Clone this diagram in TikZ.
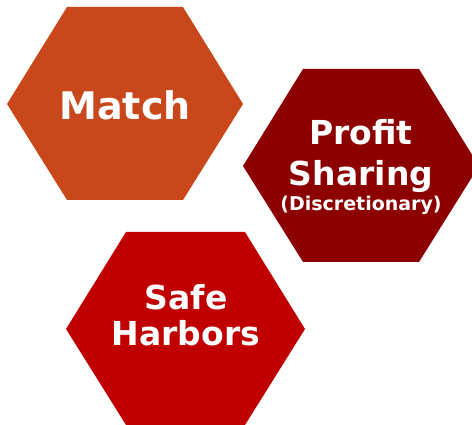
\documentclass[tikz,border=0pt]{standalone}
\usepackage{fontspec}
\setmainfont{DejaVu Sans}
\definecolor{matchorange}{RGB}{201,72,27}
\definecolor{profitred}{RGB}{140,0,0}
\definecolor{safered}{RGB}{192,0,0}
\begin{document}
\begin{tikzpicture}[x=1pt,y=-1pt,
  hexlabel/.style={text=white,font=\bfseries,inner sep=0pt,anchor=base},
  big/.style={hexlabel,font=\fontsize{38}{40}\selectfont\bfseries},
  mid/.style={hexlabel,font=\fontsize{33}{36}\selectfont\bfseries},
  small/.style={hexlabel,font=\fontsize{19}{22}\selectfont\bfseries}]
  \useasboundingbox (0,0) rectangle (472,425);
  \clip (0,0) rectangle (472,425);
  % Match hexagon
  \fill[matchorange] (7,104) -- (67,7) -- (183,7) -- (243,104) -- (183,200) -- (67,200) -- cycle;
  \node[big] (match) at (125,120) {Match};
  % Profit sharing hexagon
  \fill[profitred] (243,166) -- (303,69) -- (419,69) -- (479,166) -- (419,262) -- (303,262) -- cycle;
  \node[mid] (profit) at (361,145) {Profit};
  \node[mid] (sharing) at (361,186) {Sharing};
  \node[small] (discr) at (361,211) {(Discretionary)};
  % Safe harbors hexagon
  \fill[safered] (66,329) -- (126,232) -- (245,232) -- (305,329) -- (245,425) -- (126,425) -- cycle;
  \node[mid] (safe) at (186,309) {Safe};
  \node[mid] (harbors) at (186,345) {Harbors};
\end{tikzpicture}
\end{document}
